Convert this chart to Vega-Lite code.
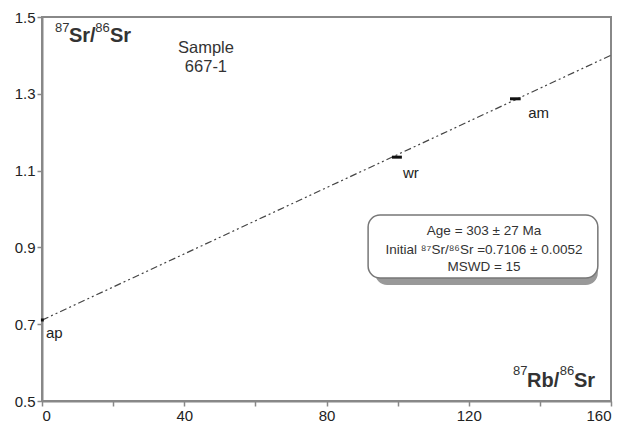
{
  "$schema": "https://vega.github.io/schema/vega-lite/v6.json",
  "width": 569,
  "height": 384,
  "autosize": {"type": "none"},
  "padding": {"left": 42, "top": 17, "right": 16, "bottom": 29},
  "background": "white",
  "config": {
    "font": "Liberation Sans",
    "view": {"stroke": "#888", "strokeWidth": 2},
    "axis": {"grid": false, "domainColor": "#888", "domainWidth": 2, "tickColor": "#888", "tickWidth": 1.5, "labelColor": "#222", "labelFontSize": 15, "labelFont": "Liberation Sans"}
  },
  "datasets": {
    "samples": [
      {"sample": "ap", "x": 0, "xlo": -0.3, "xhi": 0.5, "y": 0.711, "lx": 1.1, "ly": 0.677},
      {"sample": "wr", "x": 99.8, "xlo": 98.4, "xhi": 101.2, "y": 1.135, "lx": 101.5, "ly": 1.094},
      {"sample": "am", "x": 133.0, "xlo": 131.6, "xhi": 134.6, "y": 1.287, "lx": 136.7, "ly": 1.25}
    ],
    "isochron": [{"x": 0, "y": 0.7106}, {"x": 160, "y": 1.4005}],
    "box": [{"x1": 91.7, "x2": 156.3, "y1": 0.8203, "y2": 0.9844}],
    "boxtext": [
      {"x": 124.3, "y": 0.944, "t": "Age = 303 ± 27 Ma"},
      {"x": 124.3, "y": 0.8945, "t": "Initial ⁸⁷Sr/⁸⁶Sr =0.7106 ± 0.0052"},
      {"x": 124.3, "y": 0.849, "t": "MSWD = 15"}
    ],
    "sampletext": [
      {"x": 46.1, "y": 1.4193, "t": "Sample"},
      {"x": 46.1, "y": 1.3698, "t": "667-1"}
    ],
    "titlemain": [
      {"x": 7.59, "y": 1.4349, "t": "Sr/"},
      {"x": 19.12, "y": 1.4349, "t": "Sr"},
      {"x": 136.38, "y": 0.5365, "t": "Rb/"},
      {"x": 149.6, "y": 0.5365, "t": "Sr"}
    ],
    "titlesup": [
      {"x": 3.66, "y": 1.4609, "t": "87"},
      {"x": 15.0, "y": 1.4609, "t": "86"},
      {"x": 132.45, "y": 0.5677, "t": "87"},
      {"x": 145.6, "y": 0.5677, "t": "86"}
    ]
  },
  "layer": [
    {
      "data": {"name": "box"},
      "mark": {"type": "rect", "fill": "#999", "cornerRadius": 12, "xOffset": 7, "yOffset": 7},
      "encoding": {
        "x": {"field": "x1", "type": "quantitative", "title": null, "scale": {"domain": [0, 160], "nice": false},
          "axis": {"values": [0, 20, 40, 60, 80, 100, 120, 140, 160], "labelExpr": "datum.value % 40 === 0 ? datum.label : ''", "tickSize": 5, "labelPadding": 2, "title": null}},
        "x2": {"field": "x2"},
        "y": {"field": "y1", "type": "quantitative", "title": null, "scale": {"domain": [0.5, 1.5], "nice": false, "zero": false},
          "axis": {"values": [0.5, 0.6, 0.7, 0.8, 0.9, 1.0, 1.1, 1.2, 1.3, 1.4, 1.5], "labelExpr": "(round(datum.value*10) % 2 === 1) ? format(datum.value, '.1f') : ''", "tickSize": 5, "labelPadding": 2, "title": null}},
        "y2": {"field": "y2"}
      }
    },
    {
      "data": {"name": "box"},
      "mark": {"type": "rect", "fill": "white", "stroke": "#777", "strokeWidth": 1.5, "cornerRadius": 12},
      "encoding": {
        "x": {"field": "x1", "type": "quantitative", "title": null},
        "x2": {"field": "x2"},
        "y": {"field": "y1", "type": "quantitative", "title": null},
        "y2": {"field": "y2"}
      }
    },
    {
      "data": {"name": "isochron"},
      "mark": {"type": "line", "color": "#444", "strokeWidth": 1.2, "strokeDash": [7, 3, 2, 3, 2, 3]},
      "encoding": {
        "x": {"field": "x", "type": "quantitative", "title": null},
        "y": {"field": "y", "type": "quantitative", "title": null}
      }
    },
    {
      "data": {"name": "samples"},
      "mark": {"type": "rule", "color": "#111", "strokeWidth": 3},
      "encoding": {
        "x": {"field": "xlo", "type": "quantitative", "title": null},
        "x2": {"field": "xhi"},
        "y": {"field": "y", "type": "quantitative", "title": null}
      }
    },
    {
      "data": {"name": "samples"},
      "mark": {"type": "text", "align": "left", "baseline": "middle", "fontSize": 15, "color": "#222"},
      "encoding": {
        "x": {"field": "lx", "type": "quantitative", "title": null},
        "y": {"field": "ly", "type": "quantitative", "title": null},
        "text": {"field": "sample"}
      }
    },
    {
      "data": {"name": "boxtext"},
      "mark": {"type": "text", "align": "center", "baseline": "middle", "fontSize": 13.5, "color": "#333"},
      "encoding": {
        "x": {"field": "x", "type": "quantitative", "title": null},
        "y": {"field": "y", "type": "quantitative", "title": null},
        "text": {"field": "t"}
      }
    },
    {
      "data": {"name": "sampletext"},
      "mark": {"type": "text", "align": "center", "baseline": "middle", "fontSize": 16.5, "color": "#333"},
      "encoding": {
        "x": {"field": "x", "type": "quantitative", "title": null},
        "y": {"field": "y", "type": "quantitative", "title": null},
        "text": {"field": "t"}
      }
    },
    {
      "data": {"name": "titlemain"},
      "mark": {"type": "text", "align": "left", "baseline": "alphabetic", "fontSize": 20, "fontWeight": "bold", "color": "#333"},
      "encoding": {
        "x": {"field": "x", "type": "quantitative", "title": null},
        "y": {"field": "y", "type": "quantitative", "title": null},
        "text": {"field": "t"}
      }
    },
    {
      "data": {"name": "titlesup"},
      "mark": {"type": "text", "align": "left", "baseline": "alphabetic", "fontSize": 13, "color": "#333"},
      "encoding": {
        "x": {"field": "x", "type": "quantitative", "title": null},
        "y": {"field": "y", "type": "quantitative", "title": null},
        "text": {"field": "t"}
      }
    }
  ]
}
